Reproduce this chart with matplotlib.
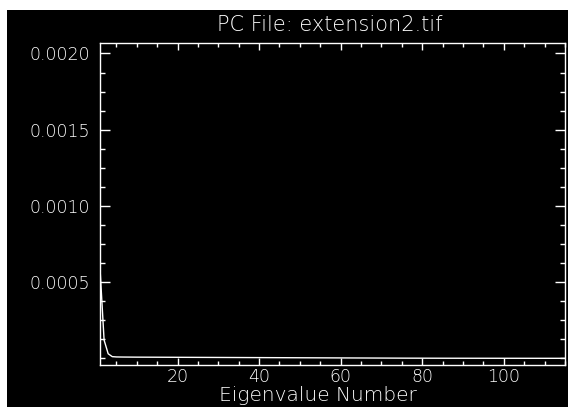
import matplotlib.pyplot as plt
from matplotlib.patches import Rectangle
from matplotlib.ticker import MultipleLocator

# Eigenvalues (first few are large, the rest sit near zero)
eigen_values = [
    5.9e-4, 1.2e-4, 3.0e-5, 1.1e-5, 9.0e-6, 8.5e-6, 8.2e-6, 8.0e-6, 7.8e-6, 7.6e-6,
    7.5e-6, 7.4e-6, 7.3e-6, 7.2e-6, 7.1e-6, 7.0e-6, 6.9e-6, 6.8e-6, 6.7e-6, 6.6e-6,
    6.5e-6, 6.4e-6, 6.3e-6, 6.2e-6, 6.1e-6, 6.0e-6, 5.9e-6, 5.8e-6, 5.7e-6, 5.6e-6,
    5.5e-6, 5.4e-6, 5.3e-6, 5.2e-6, 5.1e-6, 5.0e-6, 4.9e-6, 4.8e-6, 4.7e-6, 4.6e-6,
    4.5e-6, 4.4e-6, 4.3e-6, 4.2e-6, 4.1e-6, 4.0e-6, 3.9e-6, 3.8e-6, 3.7e-6, 3.6e-6,
    3.5e-6, 3.4e-6, 3.3e-6, 3.2e-6, 3.1e-6, 3.0e-6, 2.9e-6, 2.8e-6, 2.7e-6, 2.6e-6,
    2.5e-6, 2.4e-6, 2.3e-6, 2.2e-6, 2.1e-6, 2.0e-6, 1.9e-6, 1.8e-6, 1.7e-6, 1.6e-6,
    1.5e-6, 1.4e-6, 1.3e-6, 1.2e-6, 1.1e-6, 1.0e-6, 9.5e-7, 9.0e-7, 8.5e-7, 8.0e-7,
    7.5e-7, 7.0e-7, 6.5e-7, 6.0e-7, 5.5e-7, 5.0e-7, 4.8e-7, 4.6e-7, 4.4e-7, 4.2e-7,
    4.0e-7, 3.8e-7, 3.6e-7, 3.4e-7, 3.2e-7, 3.0e-7, 2.8e-7, 2.6e-7, 2.4e-7, 2.2e-7,
    2.0e-7, 1.8e-7, 1.6e-7, 1.4e-7, 1.2e-7, 1.0e-7, 9.0e-8, 8.0e-8, 7.0e-8, 6.0e-8,
    5.0e-8, 4.0e-8, 3.0e-8, 2.0e-8, 1.0e-8,
]
eigen_number = list(range(1, len(eigen_values) + 1))

y_ticks = [0.0005, 0.0010, 0.0015, 0.0020]
y_tick_labels = ["0.0005", "0.0010", "0.0015", "0.0020"]
x_ticks = [20, 40, 60, 80, 100]

title = "PC File: extension2.tif"
xlabel = "Eigenvalue Number"

W, H = 568, 407
fig = plt.figure(figsize=(W / 100, H / 100), dpi=100, facecolor="white")
# black plotting window with a thin white border at top and left
fig.patches.append(Rectangle((7 / W, 0), 1, (H - 10) / H, transform=fig.transFigure,
                             facecolor="black", edgecolor="none", zorder=-10))

ax = fig.add_axes([100 / W, (H - 365) / H, 465 / W, 322 / H])
ax.set_facecolor("black")
ax.plot(eigen_number, eigen_values, color="white", lw=1.0)

ax.set_xlim(1, 115)
ax.set_ylim(-0.0000439, 0.0020688)
ax.set_xticks(x_ticks)
ax.set_yticks(y_ticks)
ax.set_yticklabels(y_tick_labels)
ax.xaxis.set_minor_locator(MultipleLocator(5))
ax.yaxis.set_minor_locator(MultipleLocator(0.000125))

for s in ax.spines.values():
    s.set_color("white")
    s.set_linewidth(1.0)

ax.tick_params(axis="both", which="both", direction="in", colors="white",
               top=True, right=True, width=1.0, labelsize=12.5)
ax.tick_params(axis="y", which="major", length=7.2, pad=7)
ax.tick_params(axis="y", which="minor", length=3.6)
ax.tick_params(axis="x", which="major", length=5, pad=2.5)
ax.tick_params(axis="x", which="minor", length=3)
for lab in ax.get_xticklabels() + ax.get_yticklabels():
    lab.set_fontweight("light")

fig.text(330 / W, 1 - 25 / H, title, color="white", fontsize=15,
         fontweight="light", ha="center", va="center")
fig.text(318 / W, 2 / H, xlabel, color="white", fontsize=14.5,
         fontweight="light", ha="center", va="bottom")

fig.savefig("out.png", dpi=100, facecolor="white")
